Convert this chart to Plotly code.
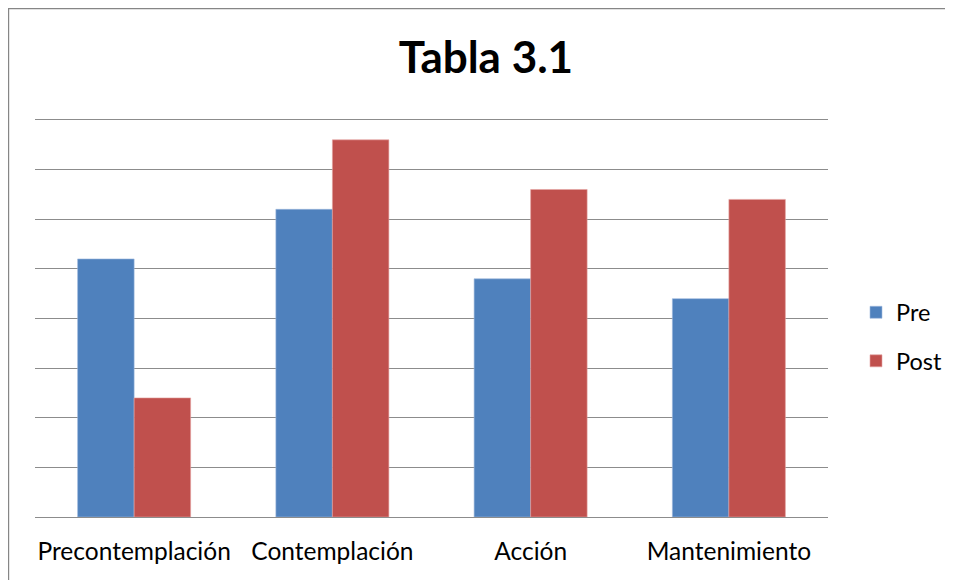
import plotly.graph_objects as go

categories = ["Precontemplación", "Contemplación", "Acción", "Mantenimiento"]
pre_values = [5.2, 6.2, 4.8, 4.4]
post_values = [2.4, 7.6, 6.6, 6.4]
series_names = ["Pre", "Post"]
y_max = 8

# page has an 8px body margin, so the figure is laid out in page coords minus 8
OFF = 8
W, H = 953 - OFF, 580 - OFF
L, R, T, B = 35 - OFF, 828 - OFF, 120 - OFF, 517 - OFF
pw, ph = R - L, B - T
GRID = "#8C8C8C"

fig = go.Figure()
fig.add_trace(go.Bar(x=categories, y=pre_values, name=series_names[0],
                     marker=dict(color="#4F81BD", line=dict(color="#9DB9DE", width=0.6)),
                     legendgroup="a"))
fig.add_trace(go.Bar(x=categories, y=post_values, name=series_names[1],
                     marker=dict(color="#C0504D", line=dict(color="#E4A3A1", width=0.6)),
                     legendgroup="b"))

fig.update_layout(
    width=W, height=H,
    margin=dict(l=L, r=W - R, t=T, b=H - B, autoexpand=False),
    paper_bgcolor="white", plot_bgcolor="white",
    barmode="group", bargap=0.43, bargroupgap=0,
    font=dict(family="Lato", color="black"),
    title=dict(text="<b>Tabla 3.1</b>", x=(486 - OFF) / W, xref="container", xanchor="center",
               y=1 - (58 - OFF) / H, yref="container", yanchor="middle",
               font=dict(family="Lato", size=44, color="black")),
    xaxis=dict(showgrid=False, showline=True, linecolor=GRID, linewidth=1.2, mirror=True,
               ticks="", tickfont=dict(size=24.5, family="Lato"),
               ticklabelstandoff=12, fixedrange=True),
    yaxis=dict(range=[0, y_max], dtick=1, showgrid=True,
               gridcolor=GRID, gridwidth=1.2,
               showticklabels=False, zeroline=True, zerolinecolor=GRID, zerolinewidth=1.2,
               showline=False, ticks=""),
    legend=dict(x=(856 - 8 - L) / pw, xanchor="left", y=(B - (337 - OFF)) / ph, yanchor="middle",
                font=dict(size=23.5, family="Lato"), tracegroupgap=15, traceorder="grouped",
                itemwidth=30, bgcolor="rgba(0,0,0,0)"),
    shapes=[
        dict(type="rect", xref="paper", yref="paper",
             x0=(0.6 - L) / pw, x1=(W + 20 - L) / pw,
             y0=(B - (H + 20)) / ph, y1=(B - 0.6) / ph,
             line=dict(color="#868686", width=1.2), fillcolor="rgba(0,0,0,0)",
             layer="below"),
    ],
)

fig.write_html("out.html")
